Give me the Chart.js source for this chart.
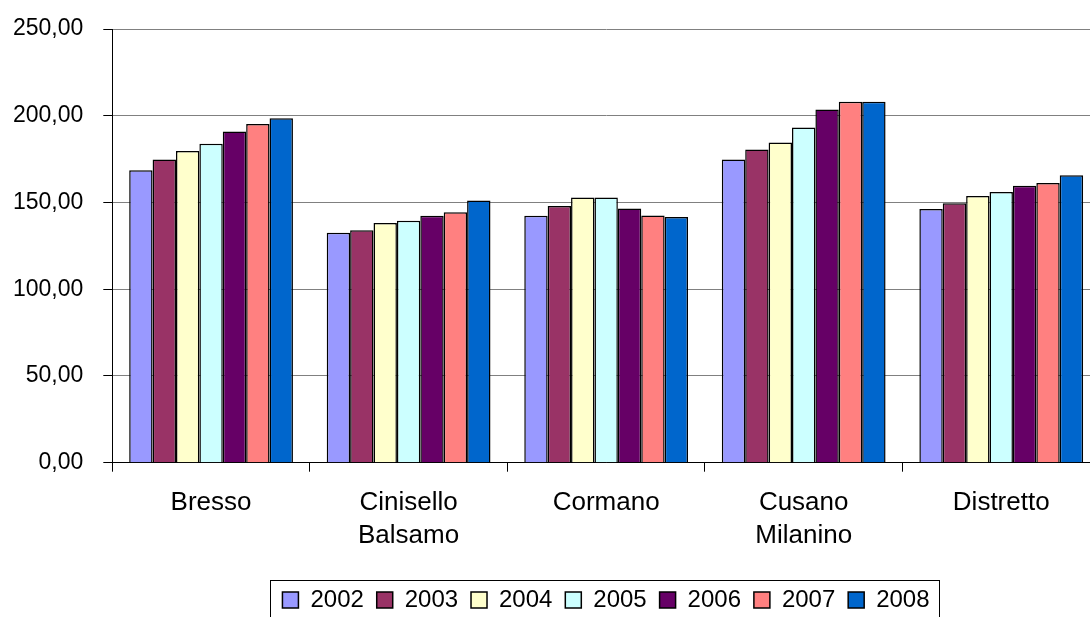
<!DOCTYPE html>
<html>
<head>
<meta charset="utf-8">
<script src="https://cdn.jsdelivr.net/npm/chart.js@4"></script>
<style>
  html, body { margin: 0; padding: 0; background: #fff; overflow: hidden; }
  #wrap { position: relative; width: 1100px; height: 617px; }
</style>
</head>
<body>
<div id="wrap"><canvas id="costChart" width="1100" height="617"></canvas></div>
<script>
const comuni = [['Bresso'], ['Cinisello', 'Balsamo'], ['Cormano'], ['Cusano', 'Milanino'], ['Distretto']];
const anni = ['2002', '2003', '2004', '2005', '2006', '2007', '2008'];

// one array per year, in the order of comuni
const v2002 = [168.6, 132.5, 142.3, 174.8, 146.3];
const v2003 = [174.8, 134.0, 147.9, 180.5, 149.6];
const v2004 = [179.7, 138.1, 152.9, 184.6, 153.8];
const v2005 = [183.8, 139.4, 152.9, 193.2, 156.1];
const v2006 = [190.9, 142.3, 146.5, 203.6, 159.6];
const v2007 = [195.3, 144.4, 142.5, 208.0, 161.3];
const v2008 = [198.6, 151.2, 141.7, 208.0, 165.7];

const seriesValues = [v2002, v2003, v2004, v2005, v2006, v2007, v2008];
const colors = ['#9999FF', '#993366', '#FFFFCC', '#CCFFFF', '#660066', '#FF8080', '#0066CC'];

const FONT = "'Liberation Sans', Arial, sans-serif";
const LEGEND_SIZE = 24;

// legend sits off-centre in the original, with a frame round it
const legendFrame = {
    id: 'legendFrame',
    afterLayout(chart) {
        const lg = chart.legend;
        const pad = lg.options.labels.padding;
        const dx = 606 - (lg.left + lg.right) / 2;
        lg.left += dx;
        lg.right += dx;
        const dy = 600 - (lg.top + pad + LEGEND_SIZE / 2);
        lg.top += dy;
        lg.bottom += dy;
    },
    afterDraw(chart) {
        const lg = chart.legend;
        const pad = lg.options.labels.padding;
        const w = lg.lineWidths[0] - pad;
        const cx = (lg.left + lg.right) / 2;
        const cy = lg.top + pad + LEGEND_SIZE / 2;
        const ctx = chart.ctx;
        ctx.save();
        ctx.strokeStyle = '#000';
        ctx.lineWidth = 1;
        ctx.strokeRect(Math.round(cx - w / 2 - 12) + 0.5, Math.round(cy - 20) + 0.5, Math.round(w + 22), 60);
        ctx.restore();
    }
};

new Chart(document.getElementById('costChart'), {
    type: 'bar',
    data: {
        labels: comuni,
        datasets: anni.map((a, i) => ({
            label: a,
            data: seriesValues[i],
            backgroundColor: colors[i],
            borderColor: '#000',
            borderWidth: 1.5,
            categoryPercentage: 0.829,
            barPercentage: 1.0
        }))
    },
    options: {
        responsive: false,
        animation: false,
        layout: { padding: { top: 29, left: 0, right: 0, bottom: 0 } },
        plugins: {
            tooltip: { enabled: false },
            legend: {
                position: 'bottom',
                labels: {
                    color: '#000',
                    boxWidth: 16,
                    boxHeight: 16,
                    padding: 12.9,
                    font: { family: FONT, size: LEGEND_SIZE }
                }
            }
        },
        scales: {
            x: {
                afterFit(scale) { scale.height = 617 - 462.7 - scale.chart.legend.height; },
                grid: {
                    offset: true,
                    drawOnChartArea: false,
                    drawTicks: true,
                    tickLength: 9,
                    tickColor: '#000'
                },
                border: { color: '#000', width: 1 },
                ticks: {
                    color: '#000',
                    padding: 15,
                    maxRotation: 0,
                    font: { family: FONT, size: 26, lineHeight: 1.27 }
                }
            },
            y: {
                min: 0,
                max: 250,
                afterFit(scale) {
                    scale.width = 112.3;
                    scale.paddingTop = 0;
                    scale.paddingBottom = 0;
                },
                grid: {
                    color: ctx => (ctx.tick && ctx.tick.value === 0) ? '#000' : '#808080',
                    tickLength: 9,
                    tickColor: '#000'
                },
                border: { color: '#000', width: 1 },
                ticks: {
                    stepSize: 50,
                    color: '#000',
                    padding: 20,
                    font: { family: FONT, size: 23 },
                    callback: v => v.toFixed(2).replace('.', ',')
                }
            }
        }
    },
    plugins: [legendFrame]
});
</script>
</body>
</html>
